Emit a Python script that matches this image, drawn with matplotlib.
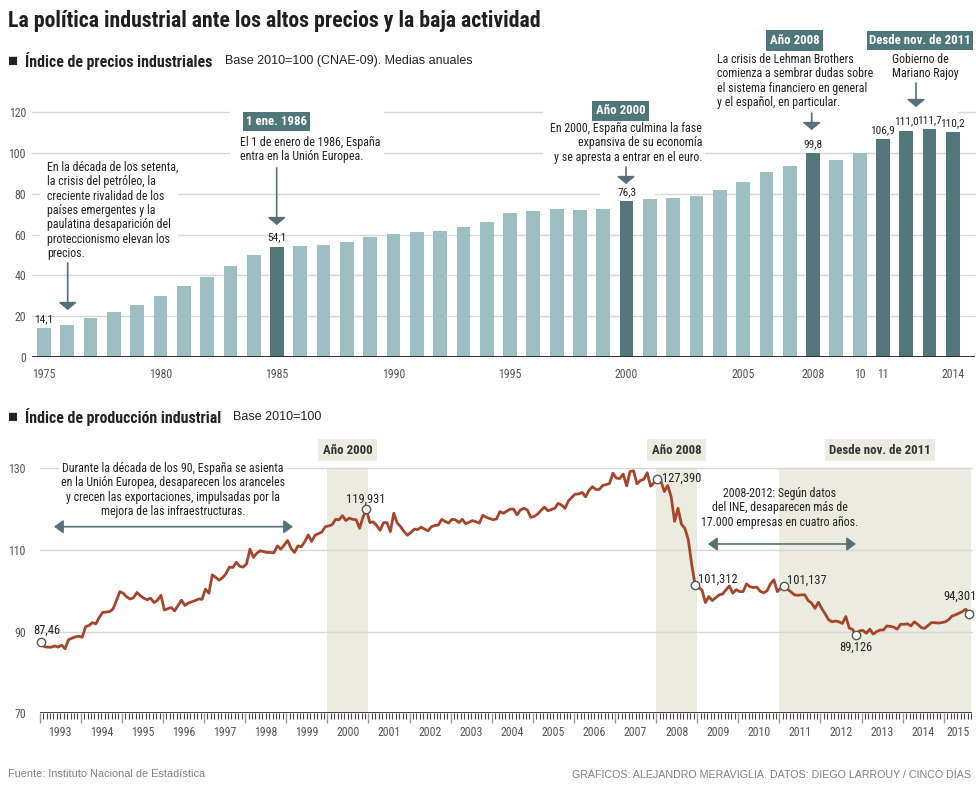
import numpy as np
import pandas as pd
import matplotlib
matplotlib.use("Agg")
import matplotlib.pyplot as plt
from matplotlib import font_manager as fm
from matplotlib.patches import Rectangle, FancyArrowPatch

# ---- data: industrial price index (annual means, base 2010=100)
years = list(range(1975, 2015))
prices = [14.1, 15.7, 19.1, 22.2, 25.5, 29.9, 34.8, 39.1, 44.6, 50.0,
          54.1, 54.6, 54.9, 56.6, 59.0, 60.3, 61.1, 62.0, 63.6, 66.2,
          70.5, 71.6, 72.4, 71.9, 72.4, 76.3, 77.5, 78.1, 79.1, 81.9,
          85.8, 90.6, 93.7, 99.8, 96.5, 100.0, 106.9, 111.0, 111.7, 110.2]
dark_years = [1985, 2000, 2008, 2011, 2012, 2013, 2014]
labelled = {1975: '14,1', 1985: '54,1', 2000: '76,3', 2008: '99,8',
            2011: '106,9', 2012: '111,0', 2013: '111,7', 2014: '110,2'}
xtick_years = [1975, 1980, 1985, 1990, 1995, 2000, 2005, 2008, 2010, 2011, 2014]
xtick_labels = ['1975', '1980', '1985', '1990', '1995', '2000', '2005', '2008', '10', '11', '2014']

# ---- data: industrial production index, monthly Jan 1993 - Aug 2015
ipi = [
    87.46, 86.3, 86.2, 86.2, 86.5, 86.2, 86.7, 85.8, 88.0, 88.4, 88.7, 88.9,      # 1993
    88.6, 91.2, 91.5, 92.2, 91.9, 93.5, 94.7, 94.8, 94.9, 95.5, 97.6, 99.8,       # 1994
    99.4, 98.5, 98.0, 98.3, 99.6, 98.8, 98.2, 97.8, 98.2, 97.1, 97.7, 98.9,       # 1995
    95.3, 95.6, 95.9, 95.1, 96.4, 97.7, 96.4, 97.0, 97.3, 97.6, 98.0, 97.9,       # 1996
    100.4, 99.4, 103.9, 103.3, 102.6, 103.2, 104.2, 105.8, 105.7, 107.0, 106.0, 105.8,  # 1997
    106.6, 110.2, 108.2, 109.2, 109.8, 109.6, 109.4, 109.4, 109.3, 111.0, 110.2, 111.2,  # 1998
    112.3, 110.4, 109.4, 111.0, 110.8, 112.0, 113.7, 112.1, 113.6, 114.0, 114.4, 115.7,  # 1999
    115.9, 116.2, 117.5, 117.4, 118.4, 117.2, 117.8, 117.5, 117.4, 115.3, 118.0, 119.931,  # 2000
    116.7, 116.9, 116.0, 114.8, 116.7, 116.7, 114.5, 119.0, 116.6, 115.7, 114.5, 113.6,  # 2001
    114.3, 115.1, 115.0, 115.6, 115.1, 114.7, 115.7, 116.0, 116.1, 117.5, 117.0, 116.6,  # 2002
    117.5, 117.4, 116.7, 117.5, 116.4, 116.8, 117.2, 116.9, 116.6, 118.5, 118.0, 117.7,  # 2003
    117.4, 117.6, 119.4, 119.0, 119.5, 120.0, 120.0, 118.6, 119.8, 120.2, 119.8, 118.0,  # 2004
    118.2, 118.8, 119.7, 120.5, 119.6, 119.9, 120.2, 121.4, 121.0, 120.2, 122.0, 122.9,  # 2005
    123.7, 123.7, 124.1, 123.0, 124.6, 125.5, 124.8, 124.8, 125.8, 126.0, 126.3, 128.8,  # 2006
    127.6, 127.5, 128.6, 125.7, 129.2, 129.4, 126.2, 127.0, 127.3, 128.9, 125.6, 126.5,  # 2007
    127.39, 126.9, 124.3, 125.8, 123.0, 117.0, 120.2, 116.3, 115.3, 112.5, 106.5, 101.312,  # 2008
    100.8, 100.2, 97.1, 98.6, 97.6, 98.3, 99.0, 99.2, 100.2, 101.2, 99.4, 100.3,  # 2009
    99.8, 99.8, 101.7, 101.0, 100.8, 100.9, 99.9, 99.5, 100.0, 101.7, 102.7, 99.8,  # 2010
    100.6, 101.137, 100.4, 99.7, 99.0, 98.9, 99.0, 99.0, 97.6, 97.0, 95.7, 97.2,  # 2011
    95.6, 94.3, 92.9, 92.4, 92.6, 92.4, 92.0, 93.7, 90.9, 90.5, 89.126, 90.2,     # 2012
    90.3, 89.6, 90.6, 89.4, 90.0, 90.4, 90.4, 91.4, 91.3, 91.1, 90.6, 91.8,       # 2013
    91.8, 91.9, 91.4, 92.4, 91.8, 91.0, 90.8, 91.5, 92.2, 92.2, 92.1, 92.2,       # 2014
    92.4, 92.9, 93.8, 94.1, 94.5, 94.9, 95.5, 94.301,                             # 2015
]
dates = pd.date_range('1993-01-01', periods=len(ipi), freq='MS')
marked = {'1993-01': '87,46', '2000-12': '119,931', '2008-01': '127,390',
          '2008-12': '101,312', '2011-02': '101,137', '2012-11': '89,126',
          '2015-08': '94,301'}
ipi_years = list(range(1993, 2016))

# ---- fonts: a condensed sans if there is one, else DejaVu Sans Condensed
avail = {f.name for f in fm.fontManager.ttflist}
STRETCH = 'normal'
for cand in ['Roboto Condensed', 'Archivo Narrow', 'PT Sans Narrow']:
    if cand in avail:
        NFAM = cand
        break
else:
    NFAM = 'DejaVu Sans'
    STRETCH = 'condensed'
NARROW = [NFAM, 'DejaVu Sans']
REG = ['Liberation Sans', 'DejaVu Sans']

LIGHT = '#9ebfc2'
DARK = '#537779'
TAG = '#4f7679'
SHADE = '#ebebdf'
ARROW = '#56707a'
TXT = '#222222'
GRID = '#d6d6d6'

W, H = 980, 791
def fx(x):
    return x / W
def fy(y):
    return 1 - y / H

fig = plt.figure(figsize=(W / 100, H / 100), dpi=100)
fig.patch.set_facecolor('white')

def ftext(x, y, s, **kw):
    kw.setdefault('family', NARROW)
    if kw['family'] is NARROW:
        kw.setdefault('stretch', STRETCH)
    kw.setdefault('color', TXT)
    kw.setdefault('fontsize', 8.6)
    return fig.text(fx(x), fy(y), s, **kw)

def varrow(x, y1, y2):
    fig.add_artist(FancyArrowPatch(
        (fx(x), fy(y1)), (fx(x), fy(y2)), transform=fig.transFigure,
        arrowstyle='-|>,head_length=0.45,head_width=0.55', mutation_scale=10,
        color=ARROW, lw=1.2, shrinkA=0, shrinkB=0))

def harrow(x1, x2, y):
    fig.add_artist(FancyArrowPatch(
        (fx(x1), fy(y)), (fx(x2), fy(y)), transform=fig.transFigure,
        arrowstyle='<|-|>,head_length=0.55,head_width=0.4', mutation_scale=10,
        color=ARROW, lw=1.2, shrinkA=0, shrinkB=0))

# ---- titles
ftext(8, 21, 'La política industrial ante los altos precios y la baja actividad',
      fontsize=15.7, weight='bold', va='center', color='#1e1e1e')
ftext(8, 61, '■', fontsize=12, va='center', family=REG)
ftext(25, 61, 'Índice de precios industriales', fontsize=11.4, weight='bold', va='center')
ftext(225, 61, 'Base 2010=100 (CNAE-09). Medias anuales', fontsize=9, va='center', family=REG)
ftext(8, 417, '■', fontsize=12, va='center', family=REG)
ftext(25, 417, 'Índice de producción industrial', fontsize=11.4, weight='bold', va='center')
ftext(233, 417, 'Base 2010=100', fontsize=9, va='center', family=REG)
ftext(8, 774, 'Fuente: Instituto Nacional de Estadística', fontsize=7.9, va='center',
      family=REG, color='#808080')
ftext(971, 775, 'GRÁFICOS: ALEJANDRO MERAVIGLIA. DATOS: DIEGO LARROUY / CINCO DÍAS',
      fontsize=7.7, va='center', ha='right', family=REG, color='#808080')

# ---- top chart: bars
ax1 = fig.add_axes([fx(32.3), fy(357), (975 - 32.3) / W, (357 - 112.3) / H])
ax1.set_xlim(1974.5, 2014.95)
ax1.set_ylim(0, 120)
for v in range(20, 121, 20):
    ax1.axhline(v, color=GRID, lw=1, zorder=0.5, clip_on=False)
colors = [DARK if y in dark_years else LIGHT for y in years]
ax1.bar(years, prices, width=0.59, color=colors, zorder=2)
ax1.axhline(0, color='#222222', lw=1.3, zorder=3)
for y, lab in labelled.items():
    ax1.annotate(lab, (y, prices[years.index(y)]), xytext=(0, 6.5), textcoords='offset points',
                 ha='center', va='center', fontsize=8.2, family=NARROW, stretch=STRETCH,
                 color=TXT, zorder=4)
for s in ax1.spines.values():
    s.set_visible(False)
ax1.set_yticks(range(0, 121, 20))
ax1.set_xticks(xtick_years)
ax1.set_xticklabels(xtick_labels)
ax1.tick_params(length=0, labelsize=8.6, labelcolor='#555555')
ax1.tick_params(axis='y', pad=4.5)
ax1.tick_params(axis='x', pad=8)
for lab in ax1.get_xticklabels() + ax1.get_yticklabels():
    lab.set_family(NARROW)
    lab.set_stretch(STRETCH)

# white masks behind annotation groups (break the gridlines)
for (x0, y0, x1, y1) in [(40, 158, 178, 260), (230, 108, 384, 162), (543, 100, 705, 165),
                         (600, 165, 655, 197), (655, 28, 870, 149), (860, 28, 958, 118)]:
    ax1.add_patch(Rectangle((fx(x0), fy(y1)), fx(x1) - fx(x0), fy(y0) - fy(y1),
                            transform=fig.transFigure, fc='white', ec='none',
                            zorder=0.8, clip_on=False))

# annotations top
ftext(47, 161, 'En la década de los setenta,\nla crisis del petróleo, la\ncreciente rivalidad de los\n'
      'países emergentes y la\npaulatina desaparición del\nproteccionismo elevan los\nprecios.',
      va='top', linespacing=1.13)
varrow(67.7, 263, 310)

ftext(276.5, 121.5, '1 ene. 1986', color='white', weight='bold', ha='center', va='center',
      fontsize=9.3, bbox=dict(boxstyle='square,pad=0.22', fc=TAG, ec='none'))
ftext(240, 136, 'El 1 de enero de 1986, España\nentra en la Unión Europea.', va='top', linespacing=1.13)
varrow(276.7, 168, 225)

ftext(620.5, 110.7, 'Año 2000', color='white', weight='bold', ha='center', va='center',
      fontsize=9.3, bbox=dict(boxstyle='square,pad=0.28', fc=TAG, ec='none'))
ftext(702, 122, 'En 2000, España culmina la fase\nexpansiva de su economía\ny se apresta a entrar en el euro.',
      va='top', ha='right', multialignment='right', linespacing=1.13)
varrow(626, 167, 184)

ftext(794.5, 40.5, 'Año 2008', color='white', weight='bold', ha='center', va='center',
      fontsize=9.3, bbox=dict(boxstyle='square,pad=0.28', fc=TAG, ec='none'))
ftext(717, 53, 'La crisis de Lehman Brothers\ncomienza a sembrar dudas sobre\n'
      'el sistema financiero en general\ny el español, en particular.', va='top', linespacing=1.13)
varrow(811.7, 113, 130)

ftext(920, 40.5, 'Desde nov. de 2011', color='white', weight='bold', ha='center', va='center',
      fontsize=9.3, bbox=dict(boxstyle='square,pad=0.2', fc=TAG, ec='none'))
ftext(892, 53, 'Gobierno de\nMariano Rajoy', va='top', linespacing=1.13)
varrow(916, 83, 107)

# ---- bottom chart: line
ax2 = fig.add_axes([fx(39.7), fy(713.3), (971.7 - 39.7) / W, (713.3 - 468.3) / H])
t = dates.year + (dates.month - 1 + 0.4) / 12.0
ax2.set_xlim(1993, 2015.68)
ax2.set_ylim(70, 130)
for (a, b) in [(2000, 2001), (2008, 2009), (2011, 2015.66)]:
    ax2.axvspan(a, b, color=SHADE, zorder=0.3, lw=0)
for v in (90, 110, 130):
    ax2.axhline(v, color=GRID, lw=1, zorder=0.5, clip_on=False)
ax2.axhline(70, color='#333333', lw=1.3, zorder=3)
ax2.plot(t, ipi, color='#a4452d', lw=2, zorder=3)
mk = [i for i, d in enumerate(dates) if d.strftime('%Y-%m') in marked]
ax2.plot(t[mk], [ipi[i] for i in mk], 'o', ms=6, mfc='white', mec='#555555', mew=1,
         zorder=4, clip_on=False)
for s in ax2.spines.values():
    s.set_visible(False)
ax2.set_yticks([70, 90, 110, 130])
ax2.tick_params(axis='y', length=0, pad=10, labelsize=8.6, labelcolor='#555555')
for lab in ax2.get_yticklabels():
    lab.set_family(NARROW)
    lab.set_stretch(STRETCH)
ax2.set_xticks(ipi_years)
ax2.set_xticklabels([])
ax2.set_xticks([1993 + m / 12.0 for m in range(0, 273) if m % 12], minor=True)
ax2.tick_params(axis='x', which='major', length=7.5, width=1, color='#999999')
ax2.tick_params(axis='x', which='minor', length=4, width=0.8, color='#444444')
for yr in ipi_years:
    xc = yr + 0.5 if yr < 2015 else (2015 + 2015.68) / 2
    ax2.text(xc, -0.08, str(yr), transform=ax2.get_xaxis_transform(), ha='center',
             va='center', fontsize=8.6, family=NARROW, stretch=STRETCH, color='#555555')

# marked values
lab_pos = {'87,46': (47, 630, 'center'), '119,931': (366, 499, 'center'),
           '127,390': (662, 478, 'left'), '101,312': (698, 579, 'left'),
           '101,137': (787, 580, 'left'), '89,126': (856, 647, 'center'),
           '94,301': (960, 596, 'center')}
for lab, (x, y, ha) in lab_pos.items():
    ftext(x, y, lab, ha=ha, va='center', fontsize=9)

# shaded period tags
for (xc, s) in [(347.5, 'Año 2000'), (676.5, 'Año 2008'), (880, 'Desde nov. de 2011')]:
    ftext(xc, 450, s, weight='bold', ha='center', va='center', fontsize=9.3, color='#333333',
          bbox=dict(boxstyle='square,pad=0.33', fc=SHADE, ec='none'))

ftext(173, 462, 'Durante la década de los 90, España se asienta\nen la Unión Europea, desaparecen los aranceles\n'
      'y crecen las exportaciones, impulsadas por la\nmejora de las infraestructuras.',
      ha='center', va='top', multialignment='center', linespacing=1.12,
      bbox=dict(boxstyle='square,pad=0.15', fc='white', ec='none'))
harrow(54, 293, 526.7)
ftext(780, 487, '2008-2012: Según datos\ndel INE, desaparecen más de\n17.000 empresas en cuatro años.',
      ha='center', va='top', multialignment='center', linespacing=1.12)
harrow(708, 856, 544)

fig.savefig('out.png', dpi=100)
